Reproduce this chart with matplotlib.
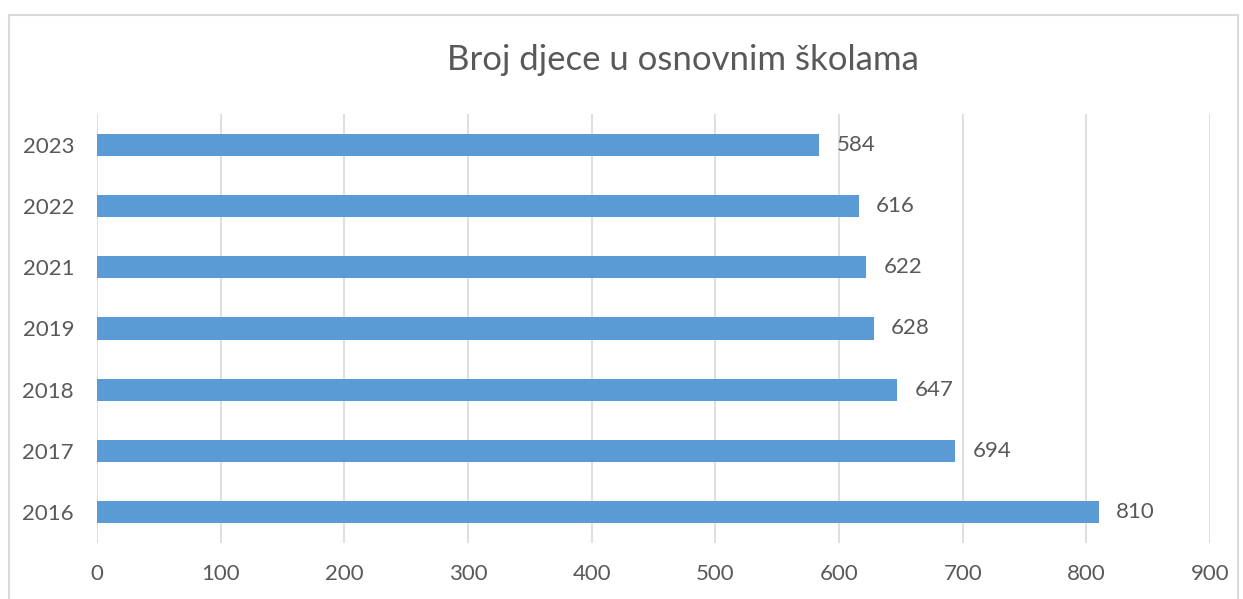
import matplotlib.pyplot as plt
from matplotlib.patches import Rectangle

years = ["2016", "2017", "2018", "2019", "2021", "2022", "2023"]
children = [810, 694, 647, 628, 622, 616, 584]
x_ticks = [0, 100, 200, 300, 400, 500, 600, 700, 800, 900]

plt.rcParams["font.family"] = ["Lato", "DejaVu Sans"]
text_col = "#595959"

fig = plt.figure(figsize=(12.43, 5.99), dpi=100)
ax = fig.add_axes([97 / 1243, 1 - 543 / 599, (1210 - 97) / 1243, (543 - 114) / 599])

pos = range(len(years))
ax.barh(pos, children, height=0.36, color="#5B9BD5", zorder=3)
for p, v in zip(pos, children):
    ax.text(v + 14, p, str(v), va="center", ha="left", fontsize=16, color=text_col)

ax.set_xlim(0, 900)
ax.set_ylim(-0.5, len(years) - 0.5)
ax.set_xticks(x_ticks)
ax.set_yticks(list(pos))
ax.set_yticklabels(years)
ax.grid(axis="x", color="#D9D9D9", linewidth=1.2, zorder=0)
for s in ax.spines.values():
    s.set_visible(False)
ax.tick_params(length=0, labelsize=16, colors=text_col)
ax.tick_params(axis="x", pad=15)
ax.tick_params(axis="y", pad=16.5)

fig.text(683 / 1243, 1 - 60 / 599, "Broj djece u osnovnim školama", ha="center", va="center",
         fontsize=25, color=text_col)

fig.patches.append(Rectangle((9 / 1243, -0.1), 1229 / 1243, 1.1 - 15 / 599, transform=fig.transFigure,
                             fill=False, edgecolor="#D9D9D9", linewidth=1.5))

fig.savefig("out.png", dpi=100)
